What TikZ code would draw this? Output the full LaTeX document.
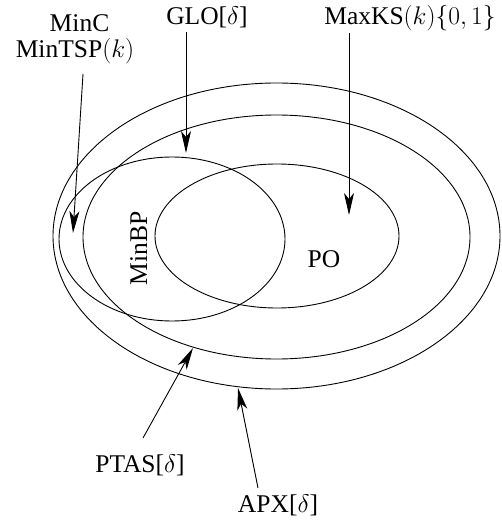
\documentclass[tikz,border=0pt]{standalone}
\usepackage{fix-cm}
\usepackage[no-math]{fontspec}
\setmainfont{Liberation Serif}
\usetikzlibrary{arrows.meta}
\tikzset{
  set/.style={draw, line width=0.9pt},
  lbl/.style={inner sep=0pt, anchor=base, font=\fontsize{25.5}{28}\selectfont},
  arr/.style={line width=0.9pt, -{Stealth[length=22pt,width=10pt,inset=6pt]}}
}
\begin{document}
\begin{tikzpicture}[x=1pt,y=-1pt]
\useasboundingbox (0,0) rectangle (501,521);
% sets
\draw[set] (276.5,236) ellipse [x radius=223.5pt, y radius=153pt];
\draw[set] (276.5,237) ellipse [x radius=193.5pt, y radius=122pt];
\draw[set] (172,239) ellipse [x radius=113pt, y radius=82pt];
\draw[set] (277,236) ellipse [x radius=122pt, y radius=72pt];
% labels
\node[lbl] (minc) at (79.5,32) {MinC};
\node[lbl] (mintsp) at (75,58) {MinTSP$(k)$};
\node[lbl] (glo) at (207,25) {GLO[$\delta$]};
\node[lbl] (maxks) at (410,25) {MaxKS$(k)\{0,1\}$};
\node[lbl, rotate=90] (minbp) at (147,248.5) {MinBP};
\node[lbl] (po) at (324,267) {PO};
\node[lbl] (ptas) at (140,472) {PTAS[$\delta$]};
\node[lbl] (apx) at (278,512) {APX[$\delta$]};
% arrow targets
\coordinate (t1) at (73,233);
\coordinate (t2) at (186,153);
\coordinate (t3) at (349,215);
\coordinate (t4) at (193,348);
\coordinate (t5) at (238,388);
% connectors
\draw[arr] ([shift={(8pt,-16pt)}]mintsp.base) -- (t1);
\draw[arr] ([shift={(-21pt,-7pt)}]glo.base) -- (t2);
\draw[arr] ([shift={(-61pt,-8pt)}]maxks.base) -- (t3);
\draw[arr] ([shift={(3pt,34pt)}]ptas.base) -- (t4);
\draw[arr] ([shift={(-20pt,24pt)}]apx.base) -- (t5);
\end{tikzpicture}
\end{document}
